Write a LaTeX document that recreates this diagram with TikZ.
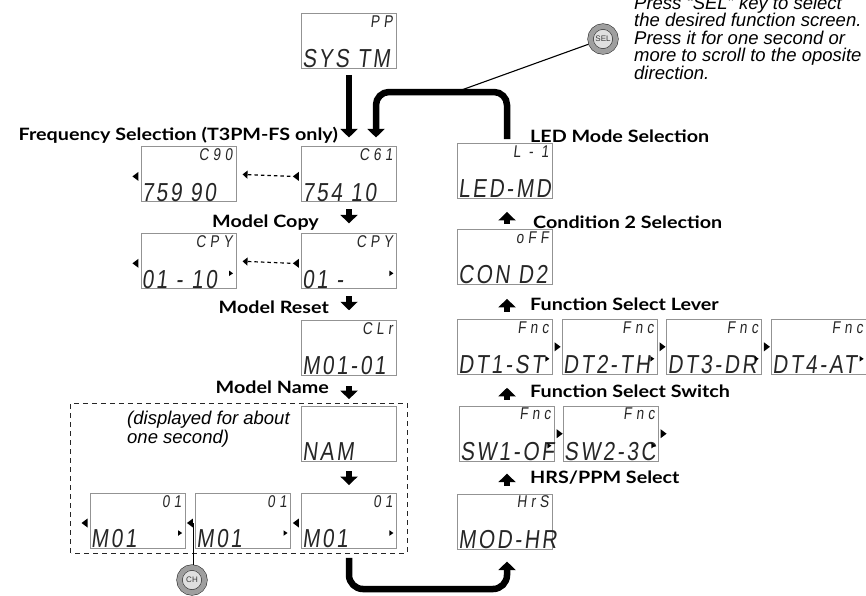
\documentclass[tikz,border=0pt]{standalone}
\usepackage{fontspec}
\usepackage{graphicx}
\usetikzlibrary{positioning,arrows.meta,calc}
\usepgflibrary{shapes.geometric}
\newfontfamily\lblfont{Lato}[FakeStretch=1.16]
\newfontfamily\notefont{Liberation Sans}
\newfontfamily\lcdfont{Liberation Sans}[FakeSlant=0.12,FakeStretch=0.8,LetterSpace=10]
\tikzset{%
lcdbox/.style={draw=gray!85,line width=0.9pt,minimum width=95pt,minimum height=55pt,inner sep=0pt},
lcdtop/.style={anchor=north east,font=\lcdfont\addfontfeature{LetterSpace=25}\fontsize{17}{17}\selectfont,inner sep=0pt,xshift=-4pt,yshift=-2pt,text height=12pt,text depth=0pt,text=black!85},
lcdbot/.style={anchor=south west,font=\lcdfont\fontsize{26}{26}\selectfont,inner sep=0pt,xshift=1pt,yshift=1pt,text depth=0pt,text=black!85},
lcd/.style 2 args={lcdbox,label={[lcdtop]north east:#1},label={[lcdbot]south west:#2}},
tri/.style={isosceles triangle,isosceles triangle stretches,fill,inner sep=0pt},
lefttri/.style={tri,shape border rotate=180,minimum width=9pt,minimum height=6pt,anchor=east,xshift=-2pt,yshift=-2pt},
smalltri/.style={tri,minimum width=5.5pt,minimum height=4pt,anchor=east,xshift=-3pt,yshift=-12pt},
bigtri/.style={tri,minimum width=9pt,minimum height=6pt,anchor=west,xshift=1.5pt},
lin/.style={label={[lefttri,name=#1]west:}},
rin/.style={label={[smalltri]east:}},
rout/.style={label={[bigtri]east:}},
lbl/.style={font=\lblfont\bfseries\fontsize{17}{17}\selectfont,inner sep=0pt},
note/.style={font=\notefont\itshape\fontsize{18.5}{16}\selectfont,align=left,inner sep=0pt},
selnotestyle/.style={note,font=\notefont\itshape\fontsize{18.5}{17.5}\selectfont},
thickarr/.style={line width=6.5pt,-{Triangle[width=17pt,length=8.5pt]}},
dasharr/.style={dashed,dash pattern=on 3.5pt off 3pt,line width=1.2pt,-{Triangle[width=8pt,length=5pt]},shorten <=2pt},
button/.style={circle,minimum size=25pt,inner sep=0pt,outer sep=3pt,fill=gray!25,draw=gray!40!black,line width=0.6pt,double=gray!75,double distance=5pt,font=\notefont\fontsize{8}{8}\selectfont,text=gray!45!black}
}
\begin{document}
\begin{tikzpicture}[x=1pt,y=-1pt]
  \useasboundingbox (0,0) rectangle (866,595);

  % left column
  \node[lcd={PP}{SYS TM}] (sys) at (349,41) {};
  \node[lcd={C61}{754 10},lin=freqal] (freqa) [below=77.5pt of sys] {};
  \node[lcd={C90}{759 90},lin=freqbl] (freqb) [left=64.5pt of freqa] {};
  \node[lcd={CPY}{01 -},lin=cpyal,rin] (cpya) [below=31pt of freqa] {};
  \node[lcd={CPY}{01 - 10},lin=cpybl,rin] (cpyb) [left=64.5pt of cpya] {};
  \node[lcd={CLr}{M01-01}] (clr) [below=31pt of cpya] {};
  \node[lcd={}{NAM}] (nam) [below=30pt of clr] {};
  \node[lcd={01}{M01},lin=mAl,rin] (mA) [below=31pt of nam] {};
  \node[lcd={01}{M01},lin=mBl,rin] (mB) [left=10pt of mA] {};
  \node[lcd={01}{M01},lin=mCl,rin] (mC) [left=9.5pt of mB] {};

  \node[lbl,anchor=base east] (freql) at (338,140) {Frequency Selection (T3PM-FS only)};
  \node[lbl,anchor=base east] (cpyl) at (319,227) {Model Copy};
  \node[lbl,anchor=base east] (clrl) at (329,313) {Model Reset};
  \node[lbl,anchor=base east] (naml) at (329,393) {Model Name};
  \node[note,anchor=base west] (namnote) at (127,443) {(displayed for about\\one second)};

  \draw[dashed,dash pattern=on 5pt off 4pt,line width=0.9pt,gray!30!black]
    ($(mC.south west)+(-19,4)$) rectangle ($(nam.north east)+(10,-3)$);

  % right column
  \node[lcd={L - 1}{LED-MD}] (led) at (505,171) {};
  \node[lcd={oFF}{CON D2}] (cond) [below=30pt of led] {};
  \node[lcd={Fnc}{DT1-ST},rin,rout] (lva) [below=34pt of cond] {};
  \node[lcd={Fnc}{DT2-TH},rin,rout] (lvb) [right=9pt of lva] {};
  \node[lcd={Fnc}{DT3-DR},rin,rout] (lvc) [right=8.5pt of lvb] {};
  \node[lcd={Fnc}{DT4-AT},rin] (lvd) [right=9pt of lvc] {};
  \node[lcd={Fnc}{SW1-OF},rin,rout] (swa) [below=31pt of lva,xshift=2pt] {};
  \node[lcd={Fnc}{SW2-3C},rin,rout] (swb) [right=8pt of swa] {};
  \node[lcd={HrS}{MOD-HR}] (hrs) [below=32pt of swa,xshift=-2pt] {};

  \node[lbl,anchor=base west] (ledl) at (530,142) {LED Mode Selection};
  \node[lbl,anchor=base west] (condl) at (533,228) {Condition 2 Selection};
  \node[lbl,anchor=base west] (lvl) at (530,310) {Function Select Lever};
  \node[lbl,anchor=base west] (swl) at (530,397) {Function Select Switch};
  \node[lbl,anchor=base west] (hrsl) at (530,483) {HRS/PPM Select};

  % keys
  \node[button] (sel) at (603,39) {SEL};
  \node[button] (ch) at (192,580) {CH};
  \node[selnotestyle,anchor=north west] (selnote) at (634,-4.5) {Press “SEL” key to select\\the desired function screen.\\Press it for one second or\\more to scroll to the oposite\\direction.};

  \coordinate (selpt) at (456,92);
  \coordinate (botpt) at (430,589);

  % flow
  \draw[thickarr] ([yshift=-6pt]sys.south) -- ([yshift=9pt]freqa.north);
  \draw[thickarr,rounded corners=13pt] ([xshift=2pt,yshift=4pt]led.north) |- (selpt) -| ([xshift=27pt,yshift=9pt]freqa.north);
  \draw[thickarr] ([yshift=-7pt]freqa.south) -- ([yshift=10pt]cpya.north);
  \draw[thickarr] ([yshift=-7pt]cpya.south) -- ([yshift=10pt]clr.north);
  \draw[thickarr] ([yshift=-10pt]clr.south) -- ([yshift=7pt]nam.north);
  \draw[thickarr] ([yshift=-9pt]nam.south) -- ([yshift=8pt]mA.north);
  \draw[thickarr,rounded corners=14pt] ([yshift=-9pt]mA.south) |- (botpt) -| ([xshift=2pt,yshift=-12pt]hrs.south);
  \draw[thickarr] ([xshift=2pt,yshift=8pt]hrs.north) -- ([yshift=-12pt]swa.south);
  \draw[thickarr] ([yshift=6pt]swa.north) -- ([xshift=2pt,yshift=-13pt]lva.south);
  \draw[thickarr] ([xshift=2pt,yshift=7pt]lva.north) -- ([xshift=2pt,yshift=-14pt]cond.south);
  \draw[thickarr] ([xshift=2pt,yshift=5pt]cond.north) -- ([xshift=2pt,yshift=-13pt]led.south);

  \draw[dasharr] (freqal.west) -- ([xshift=6pt]freqb.east);
  \draw[dasharr] (cpyal.west) -- ([xshift=6pt]cpyb.east);
  \draw[line width=1.1pt] (selpt) -- (sel);
  \draw[line width=1.3pt] (mBl.east) -- (mBl.east |- ch.north);
\end{tikzpicture}
\end{document}
